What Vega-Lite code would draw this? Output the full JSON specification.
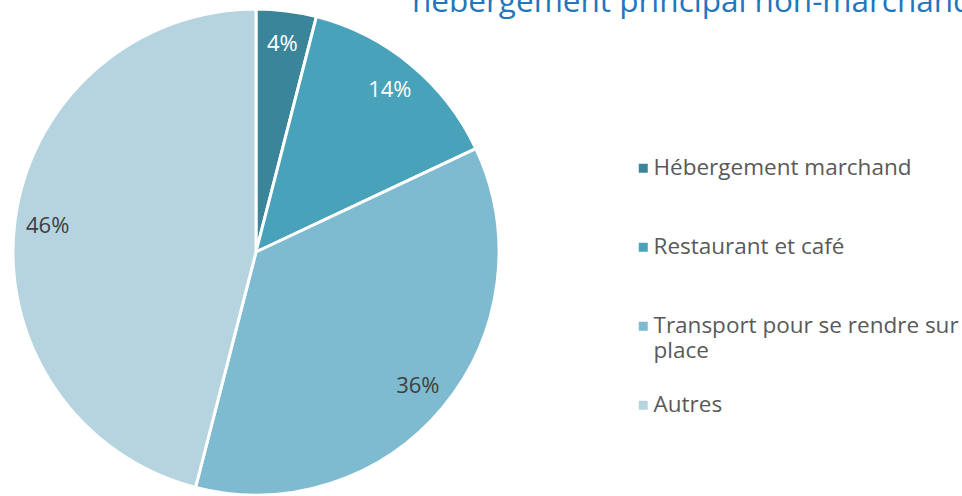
{
  "$schema": "https://vega.github.io/schema/vega-lite/v6.json",
  "autosize": {"type": "none"},
  "width": 512,
  "height": 488,
  "padding": {"left": 0, "top": 8, "right": 450, "bottom": 0},
  "background": "white",
  "title": {
    "text": "hébergement principal non-marchand",
    "anchor": "start",
    "frame": "group",
    "orient": "top",
    "baseline": "alphabetic",
    "offset": -40,
    "dx": 412,
    "font": "Open Sans",
    "fontSize": 31.5,
    "fontWeight": "normal",
    "color": "#1F77BE"
  },
  "data": {
    "values": [
      {"categorie": "Hébergement marchand", "part": 4, "ordre": 1},
      {"categorie": "Restaurant et café", "part": 14, "ordre": 2},
      {"categorie": "Transport pour se rendre sur place", "part": 36, "ordre": 3},
      {"categorie": "Autres", "part": 46, "ordre": 4}
    ]
  },
  "transform": [{"calculate": "datum.part + '%'", "as": "etiquette"}],
  "encoding": {
    "theta": {"field": "part", "type": "quantitative", "stack": true},
    "order": {"field": "ordre", "type": "quantitative"}
  },
  "layer": [
    {
      "mark": {"type": "arc", "radius": 243, "stroke": "white", "strokeWidth": 3},
      "encoding": {
        "color": {
          "field": "categorie",
          "type": "nominal",
          "sort": ["Hébergement marchand", "Restaurant et café", "Transport pour se rendre sur place", "Autres"],
          "scale": {
            "domain": ["Hébergement marchand", "Restaurant et café", "Transport pour se rendre sur place", "Autres"],
            "range": ["#3A8599", "#48A2B9", "#7EBAD0", "#B5D4DF"]
          },
          "legend": {
            "title": null,
            "orient": "none",
            "legendX": 632,
            "legendY": 149,
            "symbolType": "square",
            "symbolSize": 81,
            "symbolStrokeWidth": 0,
            "labelFont": "Open Sans",
            "labelFontSize": 22.5,
            "labelColor": "#595959",
            "labelOffset": -1,
            "labelLimit": 400,
            "labelLineHeight": 29,
            "rowPadding": 31,
            "labelExpr": "datum.label == 'Transport pour se rendre sur place' ? ['Transport pour se rendre sur', 'place'] : [datum.label, ' ']"
          }
        }
      }
    },
    {
      "mark": {"type": "text", "radius": 210, "font": "Open Sans", "fontSize": 22},
      "encoding": {
        "text": {"field": "etiquette", "type": "nominal"},
        "color": {
          "condition": {"test": "datum.part > 30", "value": "#404040"},
          "value": "white"
        }
      }
    }
  ],
  "config": {"view": {"stroke": null}}
}
